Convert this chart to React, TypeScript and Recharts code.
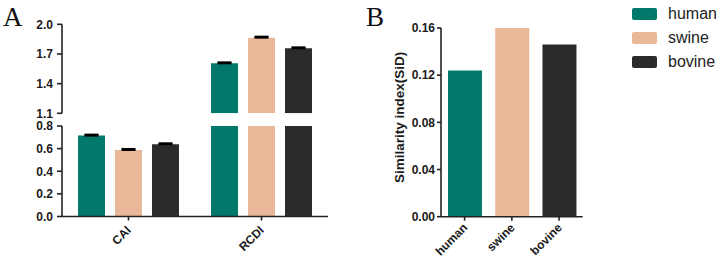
import React from 'react';
import { BarChart, Bar, XAxis, YAxis, ErrorBar, Cell } from 'recharts';

// ---------- data ----------
const categories = ['CAI', 'RCDI'];
const species = ['human', 'swine', 'bovine'];
const humanValues = [0.715, 1.605];
const swineValues = [0.588, 1.865];
const bovineValues = [0.638, 1.757];
const humanErrors = [0.009, 0.01];
const swineErrors = [0.009, 0.01];
const bovineErrors = [0.009, 0.01];
const sidValues = [0.124, 0.16, 0.146];

const lowerTicks = [0, 0.2, 0.4, 0.6, 0.8];
const upperTicks = [1.1, 1.4, 1.7, 2.0];
const sidTicks = [0, 0.04, 0.08, 0.12, 0.16];

const colors = ['#00796B', '#E8B898', '#2B2B2B'];

const LOWER_MAX = 0.8;
const UPPER_MIN = 1.1;

const seriesValues = [humanValues, swineValues, bovineValues];
const seriesErrors = [humanErrors, swineErrors, bovineErrors];

const lowerRows = categories.map((cat, i) => {
  const row: any = { cat };
  species.forEach((s, k) => {
    const v = seriesValues[k][i];
    row[s] = v > LOWER_MAX ? LOWER_MAX : v;
    row[s + 'Err'] = v > LOWER_MAX ? null : [0, seriesErrors[k][i]];
  });
  return row;
});

const upperRows = categories.map((cat, i) => {
  const row: any = { cat };
  species.forEach((s, k) => {
    const v = seriesValues[k][i];
    row[s] = v > UPPER_MIN ? v : null;
    row[s + 'Err'] = v > UPPER_MIN ? [0, seriesErrors[k][i]] : null;
  });
  return row;
});

const sidRows = species.map((s, i) => ({ name: s, sid: sidValues[i] }));

// ---------- styles ----------
const FONT = "'Liberation Sans', Arial, sans-serif";
const AX = '#222222';
const axisLine = { stroke: AX, strokeWidth: 1.6 };
const tickStyle = { fill: '#1a1a1a', fontSize: 12, fontWeight: 'bold', fontFamily: FONT };

const makeTick = (dx: number, dy: number, bold: boolean) => (p: any) => {
  const x = p.x + dx;
  const y = p.y + dy;
  return (
    <text
      x={x}
      y={y}
      transform={`rotate(-45 ${x} ${y})`}
      textAnchor="end"
      fill="#1a1a1a"
      fontSize={12}
      fontWeight={bold ? 'bold' : 'normal'}
      fontFamily={FONT}
    >
      {p.payload.value}
    </text>
  );
};

const abs: React.CSSProperties = { position: 'absolute', left: 0, top: 0 };

export default function App() {
  return (
    <div style={{ position: 'absolute', left: 0, top: 0, width: 721, height: 261, background: '#fff', overflow: 'hidden' }}>
      {/* Panel A - upper segment */}
      <div style={abs}>
        <BarChart
          width={721}
          height={261}
          data={upperRows}
          margin={{ top: 24.3, right: 393, bottom: 147.7, left: 0 }}
          barSize={27}
          barGap={10}
        >
          <XAxis dataKey="cat" hide />
          <YAxis
            width={62}
            type="number"
            domain={[UPPER_MIN, 2.0]}
            ticks={upperTicks}
            allowDataOverflow
            tickFormatter={(v: number) => v.toFixed(1)}
            axisLine={axisLine}
            tickLine={axisLine}
            tickSize={5}
            tickMargin={4}
            tick={tickStyle}
          />
          {species.map((s, k) => (
            <Bar key={s} dataKey={s} fill={colors[k]} isAnimationActive={false}>
              <ErrorBar dataKey={s + 'Err'} direction="y" width={7} stroke="#000" strokeWidth={2} />
            </Bar>
          ))}
        </BarChart>
      </div>

      {/* Panel A - lower segment */}
      <div style={abs}>
        <BarChart
          width={721}
          height={261}
          data={lowerRows}
          margin={{ top: 126, right: 393, bottom: 0, left: 0 }}
          barSize={27}
          barGap={10}
        >
          <XAxis
            dataKey="cat"
            height={44.5}
            axisLine={axisLine}
            tickLine={axisLine}
            tickSize={4}
            interval={0}
            tick={makeTick(3.2, 8.5, true)}
          />
          <YAxis
            width={62}
            type="number"
            domain={[0, LOWER_MAX]}
            ticks={lowerTicks}
            allowDataOverflow
            tickFormatter={(v: number) => v.toFixed(1)}
            axisLine={axisLine}
            tickLine={axisLine}
            tickSize={5}
            tickMargin={4}
            tick={tickStyle}
          />
          {species.map((s, k) => (
            <Bar key={s} dataKey={s} fill={colors[k]} isAnimationActive={false}>
              <ErrorBar dataKey={s + 'Err'} direction="y" width={7} stroke="#000" strokeWidth={2} />
            </Bar>
          ))}
        </BarChart>
      </div>

      {/* Panel B */}
      <div style={abs}>
        <BarChart
          width={721}
          height={261}
          data={sidRows}
          margin={{ top: 28, right: 138.3, bottom: 0, left: 381 }}
          barSize={34}
        >
          <XAxis
            dataKey="name"
            height={44.3}
            axisLine={axisLine}
            tickLine={axisLine}
            tickSize={4}
            interval={0}
            tick={makeTick(3.6, 5.7, true)}
          />
          <YAxis
            width={60}
            type="number"
            domain={[0, 0.16]}
            ticks={sidTicks}
            allowDataOverflow
            tickFormatter={(v: number) => v.toFixed(2)}
            axisLine={axisLine}
            tickLine={axisLine}
            tickSize={4}
            tickMargin={2}
            tick={tickStyle}
            label={{
              content: (p: any) => {
                const vb = p.viewBox || { x: 381, y: 28, width: 60, height: 188.7 };
                const x = vb.x + 23.5;
                const y = vb.y + vb.height / 2 - 5;
                return (
                  <text
                    x={x}
                    y={y}
                    transform={`rotate(-90 ${x} ${y})`}
                    textAnchor="middle"
                    fill="#1a1a1a"
                    fontSize={13.5}
                    fontWeight="bold"
                    fontFamily={FONT}
                  >
                    Similarity index(SiD)
                  </text>
                );
              },
            }}
          />
          <Bar dataKey="sid" isAnimationActive={false}>
            {sidRows.map((r, i) => (
              <Cell key={r.name} fill={colors[i]} />
            ))}
          </Bar>
        </BarChart>
      </div>

      {/* Panel letters */}
      <svg width={721} height={261} style={{ ...abs, pointerEvents: 'none' }}>
        <text x={3} y={26} fontSize={27} fontFamily="'Liberation Serif', 'Times New Roman', serif" fill="#111">A</text>
        <text x={366} y={26} fontSize={27} fontFamily="'Liberation Serif', 'Times New Roman', serif" fill="#111">B</text>
      </svg>

      {/* Legend */}
      <div style={{ position: 'absolute', left: 632, top: 7, fontFamily: FONT }}>
        {species.map((s, i) => (
          <div key={s} style={{ display: 'flex', alignItems: 'center', height: 24, marginTop: i === 0 ? -5 : 0 }}>
            <div style={{ width: 25, height: 12.5, background: colors[i], borderRadius: 2 }} />
            <span style={{ marginLeft: 11, fontSize: 16, color: '#222', lineHeight: '24px' }}>{s}</span>
          </div>
        ))}
      </div>
    </div>
  );
}
